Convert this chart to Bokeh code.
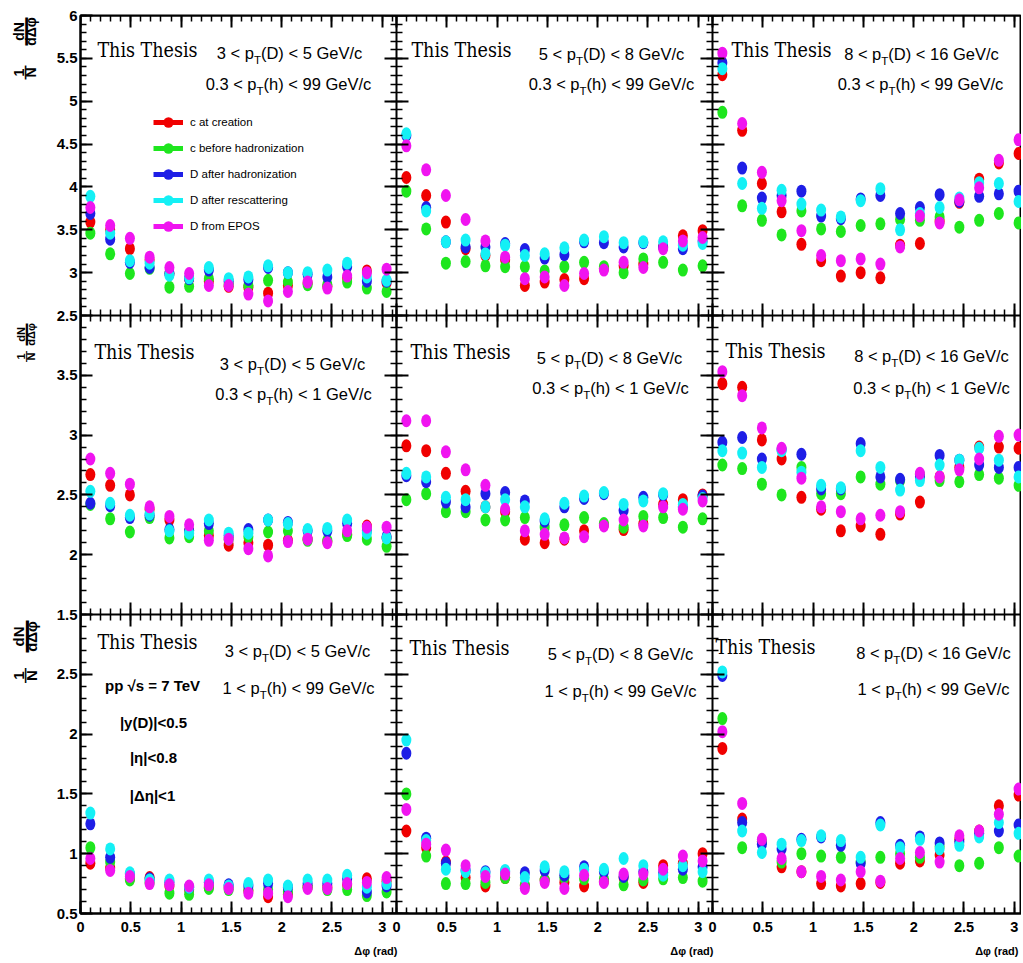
import math
from bokeh.plotting import figure
from bokeh.layouts import column, row
from bokeh.models import (Range1d, LinearAxis, FixedTicker, CustomJSTickFormatter,
                          Label, Legend, LegendItem, ColumnDataSource)
from bokeh.embed import file_html
from bokeh.resources import INLINE

# ---------------- data ----------------
dphi = [0.098, 0.295, 0.491, 0.687, 0.884, 1.080, 1.276, 1.473,
        1.669, 1.865, 2.062, 2.258, 2.454, 2.651, 2.847, 3.043]

series_names = ["c at creation", "c before hadronization", "D after hadronization",
                "D after rescattering", "D from EPOS"]
series_colors = ["#f00000", "#1ee61e", "#1e1ee6", "#14f0f5", "#f014f0"]

pt_D_text = [("3 < p", "(D) < 5 GeV/c"), ("5 < p", "(D) < 8 GeV/c"), ("8 < p", "(D) < 16 GeV/c")]
pt_h_text = [("0.3 < p", "(h) < 99 GeV/c"), ("0.3 < p", "(h) < 1 GeV/c"), ("1 < p", "(h) < 99 GeV/c")]
info_text = ["pp \u221as = 7 TeV", "|y(D)|<0.5", "|\u03b7|<0.8", "|\u0394\u03b7|<1"]

x_major = [0, 0.5, 1, 1.5, 2, 2.5, 3]
y_major_rows = [[2.5, 3, 3.5, 4, 4.5, 5, 5.5, 6],
                [1.5, 2, 2.5, 3, 3.5, 4],
                [0.5, 1, 1.5, 2, 2.5, 3]]
y_labeled_rows = [[2.5, 3, 3.5, 4, 4.5, 5, 5.5, 6],
                  [1.5, 2, 2.5, 3, 3.5],
                  [0.5, 1, 1.5, 2, 2.5]]
row_lims = [(2.5, 6.0), (1.5, 4.0), (0.5, 3.0)]

# row 1 : 0.3 < pT(h) < 99
r1c1_creation = [3.59, 3.50, 3.28, 3.15, 2.99, 2.93, 2.90, 2.84, 2.83, 2.76, 2.85, 2.88, 2.84, 2.94, 3.02, 2.88]
r1c1_before   = [3.46, 3.22, 2.99, 3.05, 2.83, 2.84, 2.93, 2.87, 2.85, 2.91, 2.89, 2.86, 2.86, 2.89, 2.82, 2.78]
r1c1_hadron   = [3.69, 3.39, 3.12, 3.06, 2.99, 2.93, 3.03, 2.90, 2.92, 3.06, 3.00, 2.98, 2.95, 3.07, 2.90, 2.90]
r1c1_rescat   = [3.89, 3.46, 3.14, 3.11, 2.97, 2.94, 3.06, 2.93, 2.95, 3.08, 3.00, 3.00, 3.03, 3.11, 2.95, 2.91]
r1c1_epos     = [3.76, 3.55, 3.40, 3.18, 3.06, 2.99, 2.85, 2.85, 2.75, 2.67, 2.78, 2.89, 2.82, 2.96, 3.00, 3.04]

r1c2_creation = [4.11, 3.90, 3.59, 3.28, 3.20, 3.15, 2.85, 2.89, 2.92, 2.93, 3.05, 3.08, 3.10, 3.30, 3.43, 3.49]
r1c2_before   = [3.95, 3.51, 3.11, 3.13, 3.08, 3.07, 3.07, 3.02, 3.07, 3.12, 3.07, 3.00, 3.16, 3.12, 3.03, 3.08]
r1c2_hadron   = [4.60, 3.76, 3.36, 3.30, 3.30, 3.34, 3.27, 3.17, 3.21, 3.36, 3.35, 3.30, 3.35, 3.30, 3.28, 3.37]
r1c2_rescat   = [4.62, 3.72, 3.36, 3.38, 3.22, 3.32, 3.20, 3.22, 3.29, 3.38, 3.42, 3.35, 3.36, 3.36, 3.32, 3.34]
r1c2_epos     = [4.48, 4.20, 3.90, 3.62, 3.37, 3.18, 2.93, 2.95, 2.85, 2.99, 3.03, 3.12, 3.06, 3.28, 3.37, 3.41]

r1c3_creation = [5.31, 4.66, 4.04, 3.71, 3.33, 3.14, 2.96, 3.00, 2.94, 3.32, 3.34, 3.60, 3.82, 4.09, 4.28, 4.39]
r1c3_before   = [4.87, 3.78, 3.61, 3.44, 3.72, 3.51, 3.48, 3.55, 3.57, 3.62, 3.61, 3.65, 3.53, 3.61, 3.69, 3.58]
r1c3_hadron   = [5.45, 4.22, 3.87, 3.90, 3.95, 3.66, 3.63, 3.86, 3.90, 3.69, 3.76, 3.91, 3.83, 3.89, 3.92, 3.95]
r1c3_rescat   = [5.38, 4.04, 3.75, 3.96, 3.80, 3.73, 3.65, 3.84, 3.98, 3.50, 3.69, 3.76, 3.87, 4.05, 4.04, 3.83]
r1c3_epos     = [5.56, 4.74, 4.17, 3.84, 3.49, 3.20, 3.14, 3.16, 3.10, 3.30, 3.66, 3.58, 3.85, 3.99, 4.31, 4.55]

# row 2 : 0.3 < pT(h) < 1
r2c1_creation = [2.67, 2.58, 2.50, 2.38, 2.29, 2.20, 2.16, 2.08, 2.10, 2.08, 2.12, 2.13, 2.11, 2.17, 2.24, 2.14]
r2c1_before   = [2.42, 2.30, 2.19, 2.31, 2.14, 2.15, 2.20, 2.13, 2.15, 2.19, 2.20, 2.12, 2.12, 2.16, 2.13, 2.07]
r2c1_hadron   = [2.43, 2.41, 2.31, 2.33, 2.21, 2.20, 2.26, 2.16, 2.21, 2.29, 2.27, 2.20, 2.20, 2.26, 2.20, 2.15]
r2c1_rescat   = [2.53, 2.43, 2.33, 2.34, 2.20, 2.18, 2.29, 2.18, 2.18, 2.29, 2.26, 2.21, 2.22, 2.29, 2.18, 2.14]
r2c1_epos     = [2.80, 2.68, 2.59, 2.40, 2.32, 2.25, 2.12, 2.13, 2.05, 1.99, 2.11, 2.13, 2.10, 2.20, 2.23, 2.23]

r2c2_creation = [2.91, 2.87, 2.68, 2.53, 2.40, 2.36, 2.13, 2.10, 2.13, 2.20, 2.25, 2.21, 2.26, 2.42, 2.46, 2.50]
r2c2_before   = [2.46, 2.51, 2.36, 2.36, 2.29, 2.29, 2.31, 2.23, 2.25, 2.31, 2.26, 2.23, 2.32, 2.31, 2.23, 2.30]
r2c2_hadron   = [2.66, 2.61, 2.44, 2.40, 2.51, 2.52, 2.45, 2.28, 2.40, 2.47, 2.51, 2.37, 2.48, 2.50, 2.40, 2.49]
r2c2_rescat   = [2.68, 2.65, 2.48, 2.46, 2.40, 2.46, 2.40, 2.30, 2.43, 2.49, 2.52, 2.42, 2.45, 2.51, 2.42, 2.47]
r2c2_epos     = [3.12, 3.12, 2.86, 2.71, 2.58, 2.38, 2.20, 2.17, 2.14, 2.15, 2.24, 2.29, 2.24, 2.40, 2.38, 2.45]

r2c3_creation = [3.43, 3.40, 2.96, 2.80, 2.48, 2.38, 2.20, 2.24, 2.17, 2.34, 2.44, 2.65, 2.73, 2.90, 2.90, 2.89]
r2c3_before   = [2.75, 2.72, 2.59, 2.50, 2.73, 2.51, 2.51, 2.65, 2.59, 2.62, 2.67, 2.62, 2.61, 2.67, 2.64, 2.58]
r2c3_hadron   = [2.94, 2.98, 2.80, 2.88, 2.84, 2.55, 2.55, 2.93, 2.65, 2.63, 2.65, 2.83, 2.79, 2.75, 2.73, 2.73]
r2c3_rescat   = [2.87, 2.85, 2.73, 2.87, 2.69, 2.58, 2.56, 2.87, 2.73, 2.54, 2.62, 2.75, 2.79, 2.89, 2.79, 2.65]
r2c3_epos     = [3.53, 3.33, 3.06, 2.89, 2.64, 2.40, 2.36, 2.30, 2.33, 2.36, 2.68, 2.65, 2.71, 2.80, 2.99, 3.00]

# row 3 : 1 < pT(h) < 99
r3c1_creation = [0.92, 0.88, 0.79, 0.80, 0.73, 0.70, 0.72, 0.72, 0.69, 0.64, 0.66, 0.72, 0.72, 0.74, 0.79, 0.77]
r3c1_before   = [1.05, 0.93, 0.78, 0.76, 0.67, 0.66, 0.71, 0.70, 0.70, 0.70, 0.68, 0.72, 0.70, 0.70, 0.65, 0.68]
r3c1_hadron   = [1.25, 0.97, 0.83, 0.79, 0.76, 0.72, 0.76, 0.74, 0.73, 0.75, 0.72, 0.75, 0.75, 0.79, 0.68, 0.73]
r3c1_rescat   = [1.34, 1.04, 0.84, 0.78, 0.78, 0.72, 0.78, 0.73, 0.75, 0.78, 0.73, 0.78, 0.78, 0.82, 0.72, 0.75]
r3c1_epos     = [0.96, 0.86, 0.81, 0.75, 0.74, 0.73, 0.74, 0.71, 0.67, 0.67, 0.64, 0.71, 0.71, 0.75, 0.76, 0.80]

r3c2_creation = [1.19, 1.05, 0.93, 0.80, 0.73, 0.80, 0.73, 0.78, 0.76, 0.73, 0.77, 0.80, 0.76, 0.90, 0.92, 1.00]
r3c2_before   = [1.50, 0.98, 0.75, 0.75, 0.76, 0.80, 0.74, 0.78, 0.80, 0.79, 0.79, 0.74, 0.78, 0.79, 0.80, 0.77]
r3c2_hadron   = [1.84, 1.13, 0.92, 0.86, 0.85, 0.85, 0.84, 0.86, 0.82, 0.89, 0.85, 0.81, 0.85, 0.84, 0.87, 0.89]
r3c2_rescat   = [1.95, 1.11, 0.87, 0.85, 0.84, 0.86, 0.80, 0.89, 0.85, 0.87, 0.87, 0.96, 0.90, 0.82, 0.90, 0.85]
r3c2_epos     = [1.37, 1.08, 1.03, 0.90, 0.81, 0.83, 0.71, 0.76, 0.71, 0.82, 0.76, 0.83, 0.83, 0.87, 0.98, 0.94]

r3c3_creation = [1.88, 1.29, 1.10, 0.89, 0.85, 0.75, 0.73, 0.75, 0.76, 0.92, 0.94, 0.99, 1.12, 1.19, 1.40, 1.49]
r3c3_before   = [2.13, 1.05, 1.10, 0.93, 1.00, 0.98, 0.97, 0.93, 0.97, 1.00, 0.97, 1.06, 0.90, 0.92, 1.05, 0.98]
r3c3_hadron   = [2.49, 1.26, 1.08, 1.04, 1.12, 1.14, 1.07, 0.92, 1.26, 1.07, 1.14, 1.09, 1.10, 1.17, 1.19, 1.24]
r3c3_rescat   = [2.52, 1.19, 1.01, 1.08, 1.11, 1.15, 1.11, 0.97, 1.24, 1.05, 1.12, 1.04, 1.07, 1.14, 1.26, 1.17]
r3c3_epos     = [2.02, 1.42, 1.12, 0.96, 0.85, 0.81, 0.78, 0.85, 0.77, 0.96, 1.01, 0.93, 1.15, 1.19, 1.33, 1.54]

panel_series = {
    (0, 0): [r1c1_creation, r1c1_before, r1c1_hadron, r1c1_rescat, r1c1_epos],
    (0, 1): [r1c2_creation, r1c2_before, r1c2_hadron, r1c2_rescat, r1c2_epos],
    (0, 2): [r1c3_creation, r1c3_before, r1c3_hadron, r1c3_rescat, r1c3_epos],
    (1, 0): [r2c1_creation, r2c1_before, r2c1_hadron, r2c1_rescat, r2c1_epos],
    (1, 1): [r2c2_creation, r2c2_before, r2c2_hadron, r2c2_rescat, r2c2_epos],
    (1, 2): [r2c3_creation, r2c3_before, r2c3_hadron, r2c3_rescat, r2c3_epos],
    (2, 0): [r3c1_creation, r3c1_before, r3c1_hadron, r3c1_rescat, r3c1_epos],
    (2, 1): [r3c2_creation, r3c2_before, r3c2_hadron, r3c2_rescat, r3c2_epos],
    (2, 2): [r3c3_creation, r3c3_before, r3c3_hadron, r3c3_rescat, r3c3_epos],
}

# ---------------- layout / style ----------------
SANS = "Liberation Sans"
SERIF = "DejaVu Serif Condensed, DejaVu Serif"

TITLE_W = 44          # strip holding the y titles
LEFT = 36             # border of the main figure (tick labels)
COL_W = [316, 316, 309]
FRAME_W = sum(COL_W)
ROW_H = [300, 299, 299]
FRAME_H = sum(ROW_H)
TOP = 15
XLAB_H = 27
STRIP_H = 20
SX = COL_W[0] / math.pi
col_off = [0, COL_W[0], COL_W[0] + COL_W[1]]
row_off = [0, ROW_H[0], ROW_H[0] + ROW_H[1]]
row_scale = [ROW_H[r] / (row_lims[r][1] - row_lims[r][0]) for r in range(3)]
xr_names = ["default", "c1", "c2"]
yr_names = ["default", "r1", "r2"]
PAGE_X0 = TITLE_W + LEFT     # frame left (picture pixels)
PAGE_Y0 = TOP                # frame top (picture pixels)

x_ranges = [(-col_off[c] / SX, (FRAME_W - col_off[c]) / SX) for c in range(3)]
y_ranges = []
for r in range(3):
    end = row_lims[r][1] + row_off[r] / row_scale[r]
    y_ranges.append((end - FRAME_H / row_scale[r], end))


def xcomp(c, v):
    return v + col_off[c] / SX


def ycomp(r, v):
    py = row_off[r] + (row_lims[r][1] - v) * row_scale[r]
    return row_lims[0][1] - py / row_scale[0]


def num(v):
    return ("%g" % v)


ARIAL = {' ': 278, '(': 333, ')': 333, '.': 278, '/': 278, '<': 584, '=': 584,
         'C': 722, 'D': 722, 'G': 778, 'T': 611, 'V': 667, 'c': 500, 'e': 556,
         'h': 556, 'p': 556}


def tw(s, size):
    return sum(ARIAL.get(ch, 556) for ch in s) / 1000.0 * size


def at(r, c, rx, ry):
    """picture pixel -> data coordinates of panel (r, c)"""
    px = rx - PAGE_X0 - col_off[c]
    py = ry - PAGE_Y0 - row_off[r]
    return px / SX, row_lims[r][1] - py / row_scale[r]


def lookup_fmt(pos, lab):
    return CustomJSTickFormatter(args=dict(pos=pos, lab=lab), code="""
        let best = 0, bd = Infinity;
        for (let i = 0; i < pos.length; i++) {
            const d = Math.abs(pos[i] - tick);
            if (d < bd) { bd = d; best = i; }
        }
        return lab[best];
    """)


blank_fmt = CustomJSTickFormatter(code="return '';")

# composite tick positions
x_pos = [xcomp(c, v) for c in range(3) for v in x_major]
x_lab = [num(v) for c in range(3) for v in x_major]
x_minor = [xcomp(c, k / 10) for c in range(3) for k in range(32)]
y_pos_all = [ycomp(r, v) for r in range(3) for v in y_major_rows[r]]
y_pos = [ycomp(r, v) for r in range(3) for v in y_labeled_rows[r]]
y_lab = [num(v) for r in range(3) for v in y_labeled_rows[r]]
y_minor = []
for r in range(3):
    lo, hi = row_lims[r]
    y_minor += [ycomp(r, lo + k / 10) for k in range(int(round((hi - lo) * 10)) + 1)]


def make_axis(ticks, minor, formatter, size=0, tin=12, tout=0, **kw):
    ax = LinearAxis(ticker=FixedTicker(ticks=ticks, minor_ticks=minor), formatter=formatter, **kw)
    ax.major_tick_in = tin
    ax.major_tick_out = tout
    ax.minor_tick_in = tin // 2
    ax.minor_tick_out = tout // 2
    ax.major_tick_line_width = 2
    ax.minor_tick_line_width = 1.5
    ax.major_tick_line_color = "black"
    ax.minor_tick_line_color = "black"
    ax.axis_line_width = 2
    ax.axis_line_color = "black"
    ax.major_label_text_font = SANS
    ax.major_label_text_font_style = "bold"
    ax.major_label_text_color = "black"
    if size:
        ax.major_label_text_font_size = f"{size}px"
    else:
        ax.major_label_standoff = 0
    return ax


p = figure(frame_width=FRAME_W, frame_height=FRAME_H,
           x_range=Range1d(*x_ranges[0]), y_range=Range1d(*y_ranges[0]),
           x_axis_type=None, y_axis_type=None,
           min_border_left=LEFT, min_border_right=0, min_border_top=TOP,
           min_border_bottom=XLAB_H, toolbar_location=None, output_backend="svg",
           outline_line_color="black", outline_line_width=2,
           background_fill_color="white", border_fill_color="white")
p.extra_x_ranges = {"c1": Range1d(*x_ranges[1]), "c2": Range1d(*x_ranges[2])}
p.extra_y_ranges = {"r1": Range1d(*y_ranges[1]), "r2": Range1d(*y_ranges[2])}
p.grid.visible = False

# labelled axes (left, bottom)
axl = make_axis(y_pos, y_minor, lookup_fmt(y_pos, y_lab), size=15)
axl.major_label_standoff = 3
p.add_layout(axl, "left")
axb = make_axis(x_pos, x_minor, lookup_fmt(x_pos, x_lab), size=14.5)
axb.major_label_standoff = 8
p.add_layout(axb, "below")
# top edge
p.add_layout(make_axis(x_pos, x_minor, blank_fmt, fixed_location=y_ranges[0][1]), "above")
# column boundaries
for c in (1, 2):
    p.add_layout(make_axis(y_pos_all, y_minor, blank_fmt, tout=12,
                           fixed_location=xcomp(c, 0)), "left")
# row boundaries
for r in (1, 2):
    p.add_layout(make_axis(x_pos, x_minor, blank_fmt, tout=12,
                           fixed_location=ycomp(r, row_lims[r][1])), "below")

# data points
for r in range(3):
    for c in range(3):
        for k in range(5):
            src = ColumnDataSource(dict(x=dphi, y=panel_series[(r, c)][k]))
            p.ellipse(x="x", y="y", width=10, height=13, width_units="screen",
                      height_units="screen", source=src, fill_color=series_colors[k],
                      line_color=None, x_range_name=xr_names[c], y_range_name=yr_names[r])


def add_text(fig, r, c, rx, ry, text, size, font, style="normal", align="center",
             x_offset=0.0, y_offset=0.0):
    x, y = at(r, c, rx, ry)
    fig.add_layout(Label(x=x, y=y, x_range_name=xr_names[c], y_range_name=yr_names[r],
                         text=text, text_font=font, text_font_size=f"{size:.1f}px",
                         text_font_style=style, text_align=align, text_baseline="middle",
                         x_offset=x_offset, y_offset=y_offset, text_color="black"))


def add_pt(r, c, rx, ry, pre, post, size):
    ssz = size * 0.7
    wpre, wsub, wpost = tw(pre, size), tw("T", ssz), tw(post, size)
    W = wpre + wsub + wpost
    add_text(p, r, c, rx, ry, pre, size, SANS, align="left", x_offset=-W / 2)
    add_text(p, r, c, rx, ry, "T", ssz, SANS, align="left", x_offset=-W / 2 + wpre,
             y_offset=-0.45 * size)
    add_text(p, r, c, rx, ry, post, size, SANS, align="left", x_offset=-W / 2 + wpre + wsub)


# text positions (picture pixel coords)
thesis_pos = {(0, 0): (147, 50), (0, 1): (461, 50), (0, 2): (781, 50),
              (1, 0): (144, 352), (1, 1): (460, 352), (1, 2): (775, 351),
              (2, 0): (147, 642), (2, 1): (459, 648), (2, 2): (765, 647)}
ptD_pos = {(0, 0): (289, 52), (0, 1): (611, 53), (0, 2): (921, 53),
           (1, 0): (292, 363), (1, 1): (609, 357), (1, 2): (931, 355),
           (2, 0): (297, 650), (2, 1): (620, 653), (2, 2): (933, 652)}
pth_pos = {(0, 0): (288, 83), (0, 1): (611, 83), (0, 2): (920, 83),
           (1, 0): (293, 393), (1, 1): (610, 387), (1, 2): (931, 387),
           (2, 0): (298, 687), (2, 1): (620, 690), (2, 2): (933, 688)}
info_pos = [(152, 685), (153, 722), (153, 757), (152, 795)]

for r in range(3):
    for c in range(3):
        tx, ty = thesis_pos[(r, c)]
        add_text(p, r, c, tx, ty, "This Thesis", 19.5, SERIF)
        dx, dy = ptD_pos[(r, c)]
        add_pt(r, c, dx, dy, pt_D_text[c][0], pt_D_text[c][1], 16.5)
        hx, hy = pth_pos[(r, c)]
        add_pt(r, c, hx, hy, pt_h_text[r][0], pt_h_text[r][1], 16.5)

for txt, (ix, iy) in zip(info_text, info_pos):
    add_text(p, 2, 0, ix, iy, txt, 15, SANS, "bold")

# legend (proxy renderers without visible marks)
nan = float("nan")
items = []
for k in range(5):
    ln = p.line(x=[nan], y=[nan], line_color=series_colors[k], line_width=5)
    mk = p.scatter(x=[nan], y=[nan], marker="circle", size=11,
                   fill_color=series_colors[k], line_color=None)
    items.append(LegendItem(label=series_names[k], renderers=[ln, mk]))
legend = Legend(items=items, location=(73, 674), glyph_width=30, glyph_height=26,
                label_height=26, spacing=0, padding=0, margin=0, label_standoff=7,
                border_line_color=None, background_fill_alpha=0,
                label_text_font=SANS, label_text_font_size="11.5px",
                label_text_color="black")
p.add_layout(legend)

# ---------------- y titles (left strip, frame aligned with main frame) ----------------
t = figure(frame_width=TITLE_W, frame_height=FRAME_H, x_range=Range1d(0, TITLE_W),
           y_range=Range1d(TOP + FRAME_H, TOP), x_axis_type=None, y_axis_type=None,
           min_border_left=0, min_border_right=0, min_border_top=TOP,
           min_border_bottom=XLAB_H,
           toolbar_location=None, output_backend="svg", outline_line_color=None,
           background_fill_color="white", border_fill_color="white")
t.grid.visible = False

# (num_x, den_x, bar_x, y of 1/N, y of dN/dΔφ, font size, short bar, long bar)
ytitle = [(18, 30, 24, 72, 31, 14, 14, 28),
          (20, 30, 25, 356, 334, 11, 11, 22),
          (18, 31, 24, 675, 636, 15, 15, 32)]


def tlabel(rx, ry, text, size):
    t.add_layout(Label(x=rx, y=ry, text=text, text_font=SANS,
                       text_font_size=f"{size}px", text_font_style="bold",
                       text_align="center", text_baseline="middle",
                       angle=math.pi / 2, text_color="black"))


for nx, dxp, bx, ys, yb, sz, bs, bb in ytitle:
    tlabel(nx, ys, "1", sz)
    tlabel(dxp, ys, "N", sz)
    tlabel(bx, ys, "\u2014", bs)
    tlabel(nx, yb, "dN", sz)
    tlabel(dxp, yb, "d\u0394\u03c6", sz)
    tlabel(bx, yb, "\u2014", bb)

# ---------------- x titles (bottom strip) ----------------
s = figure(frame_width=FRAME_W, frame_height=STRIP_H, x_range=Range1d(*x_ranges[0]),
           y_range=Range1d(0, 1), x_axis_type=None, y_axis_type=None,
           min_border_left=TITLE_W + LEFT, min_border_right=0, min_border_top=0,
           min_border_bottom=0, toolbar_location=None, output_backend="svg",
           outline_line_color=None, background_fill_color="white",
           border_fill_color="white")
s.extra_x_ranges = {"c1": Range1d(*x_ranges[1]), "c2": Range1d(*x_ranges[2])}
s.grid.visible = False
for c in range(3):
    xe = min(math.pi + 0.01, x_ranges[c][1] - 0.03)
    s.add_layout(Label(x=xe, y=0.5, x_range_name=xr_names[c], text="\u0394\u03c6 (rad)",
                       text_font=SANS, text_font_size="11px", text_font_style="bold",
                       text_align="right", text_baseline="middle", text_color="black"))

layout = column(row(t, p, spacing=0), s, spacing=0)
open("out.html", "w").write(file_html(layout, INLINE))
